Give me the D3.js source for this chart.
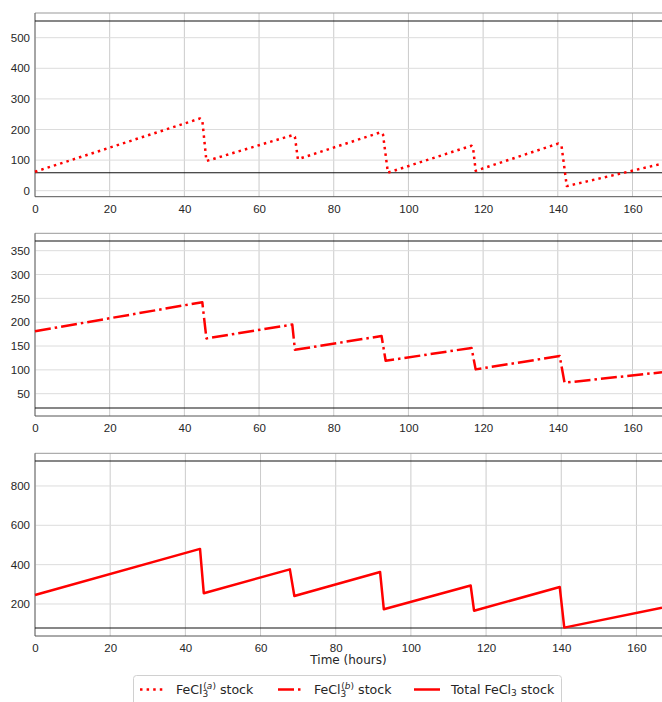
<!DOCTYPE html>
<html>
<head>
<meta charset="utf-8">
<script src="https://cdn.jsdelivr.net/npm/d3@7"></script>
<style>
	body { margin: 0; background: #fff; }
	svg { display: block; font-family: 'DejaVu Sans', sans-serif; }
	.tick text { fill: #262626; font-size: 11.5px; }
</style>
</head>
<body>
<svg width="662" height="702"></svg>
<script>
// stock over time, [hours, value]
let stockA = [
	[0, 62], [44.2, 236], [44.8, 230], [45.9, 97],
	[69.1, 182], [69.6, 176], [70.4, 103],
	[92.6, 191], [93.2, 183], [94.5, 59],
	[116.9, 147], [117.3, 141], [118, 65],
	[140.1, 154], [141, 146], [142.4, 15],
	[167.9, 88]
]
let stockB = [
	[0, 181], [44.8, 242], [45.9, 166],
	[68.9, 195], [69.6, 142],
	[92.8, 171], [93.9, 119],
	[116.9, 146], [118, 101],
	[140.5, 129], [141.8, 73],
	[167.9, 95]
]
let stockTotal = [
	[0, 246], [43.9, 480], [44.9, 255],
	[67.8, 376], [69, 241],
	[91.8, 363], [92.8, 173],
	[115.9, 294], [116.8, 166],
	[139.6, 286], [140.8, 80],
	[166.8, 181]
]

// min / max limits drawn as black lines
let limitsA = [58.8, 554.6]
let limitsB = [20, 370.3]
let limitsTotal = [78, 927]

let xTicks = [0, 20, 40, 60, 80, 100, 120, 140, 160]
let yTicksA = [0, 100, 200, 300, 400, 500]
let yTicksB = [50, 100, 150, 200, 250, 300, 350]
let yTicksTotal = [200, 400, 600, 800]

let panels = [
	{ data: stockA, limits: limitsA, yTicks: yTicksA, xMax: 167.9, yDomain: [-19.6, 580.7], top: 13, bottom: 196.7, dash: '2.5,4.1' },
	{ data: stockB, limits: limitsB, yTicks: yTicksB, xMax: 167.9, yDomain: [3.2, 386.5], top: 233.3, bottom: 416, dash: '16,4,2.5,4' },
	{ data: stockTotal, limits: limitsTotal, yTicks: yTicksTotal, xMax: 166.8, yDomain: [37.3, 966], top: 453.3, bottom: 636, dash: null }
]

let svg = d3.select('svg')
let left = 35, right = 662

function drawPanel(p) {
	let xScale = d3.scaleLinear().domain([0, p.xMax]).range([left, right])
	let yScale = d3.scaleLinear().domain(p.yDomain).range([p.bottom, p.top])

	let g = svg.append('g')

	// grid
	g.append('g').selectAll('line')
		.data(xTicks)
		.join('line')
		.attr('x1', d => xScale(d)).attr('x2', d => xScale(d))
		.attr('y1', p.top).attr('y2', p.bottom)
		.attr('stroke', '#cbcbcb').attr('stroke-width', 1)
	g.append('g').selectAll('line')
		.data(p.yTicks)
		.join('line')
		.attr('x1', left).attr('x2', right)
		.attr('y1', d => yScale(d)).attr('y2', d => yScale(d))
		.attr('stroke', '#dcdcdc').attr('stroke-width', 1)

	// spines
	g.append('line').attr('x1', left).attr('x2', right).attr('y1', p.top).attr('y2', p.top)
		.attr('stroke', '#999')
	g.append('line').attr('x1', left).attr('x2', left).attr('y1', p.top).attr('y2', p.bottom)
		.attr('stroke', '#666')
	g.append('line').attr('x1', left).attr('x2', right).attr('y1', p.bottom).attr('y2', p.bottom)
		.attr('stroke', '#555')

	// limits
	g.append('g').selectAll('line')
		.data(p.limits)
		.join('line')
		.attr('x1', left).attr('x2', right)
		.attr('y1', d => yScale(d)).attr('y2', d => yScale(d))
		.attr('stroke', '#111').attr('stroke-width', 1.1)

	// axes (labels only)
	let bottomAxis = d3.axisBottom(xScale).tickValues(xTicks).tickSize(0).tickPadding(8)
	let bAx = g.append('g').attr('transform', `translate(0, ${p.bottom})`).call(bottomAxis)
	bAx.select('.domain').remove()

	let leftAxis = d3.axisLeft(yScale).tickValues(p.yTicks).tickSize(0).tickPadding(5)
	let lAx = g.append('g').attr('transform', `translate(${left}, 0)`).call(leftAxis)
	lAx.select('.domain').remove()

	// series
	let line = d3.line().x(d => xScale(d[0])).y(d => yScale(d[1]))
	let path = g.append('path')
		.datum(p.data)
		.attr('d', line)
		.attr('fill', 'none')
		.attr('stroke', '#ff0000')
		.attr('stroke-width', 2.5)
		.attr('stroke-linejoin', 'round')
	if (p.dash) path.attr('stroke-dasharray', p.dash)
}

panels.forEach(drawPanel)

svg.append('text')
	.attr('x', (left + right) / 2).attr('y', 664)
	.attr('text-anchor', 'middle')
	.attr('font-size', 12)
	.attr('fill', '#262626')
	.text('Time (hours)')

// legend
let legend = svg.append('g')
legend.append('rect')
	.attr('x', 133.5).attr('y', 675.5).attr('width', 428).attr('height', 34)
	.attr('rx', 3)
	.attr('fill', '#fff').attr('stroke', '#d0d0d0')

let legendItems = [
	{ x: 140, dash: '2.5,4.1', label: 'a' },
	{ x: 278, dash: '16,4,2.5,4', label: 'b' },
	{ x: 414, dash: null, label: 'total' }
]
legendItems.forEach(it => {
	let l = legend.append('line')
		.attr('x1', it.x).attr('x2', it.x + 26)
		.attr('y1', 689.5).attr('y2', 689.5)
		.attr('stroke', '#ff0000').attr('stroke-width', 2.5)
	if (it.dash) l.attr('stroke-dasharray', it.dash)

	let t = legend.append('text')
		.attr('x', it.x + (it.label === 'total' ? 37 : 36)).attr('y', 694)
		.attr('font-size', 12.6).attr('fill', '#262626')
	if (it.label === 'total') {
		t.append('tspan').text('Total FeCl')
		t.append('tspan').attr('font-size', 9).attr('dy', 2).text('3')
		t.append('tspan').attr('dy', -2).text(' stock')
	} else {
		t.append('tspan').text('FeCl')
		t.append('tspan').attr('font-size', 9).attr('dy', 3).text('3')
		t.append('tspan').attr('font-size', 9).attr('dx', -5).attr('dy', -8).text('(')
		t.append('tspan').attr('font-size', 9).attr('font-style', 'italic').text(it.label)
		t.append('tspan').attr('font-size', 9).text(')')
		t.append('tspan').attr('dy', 5).text(' stock')
	}
})
</script>
</body>
</html>
